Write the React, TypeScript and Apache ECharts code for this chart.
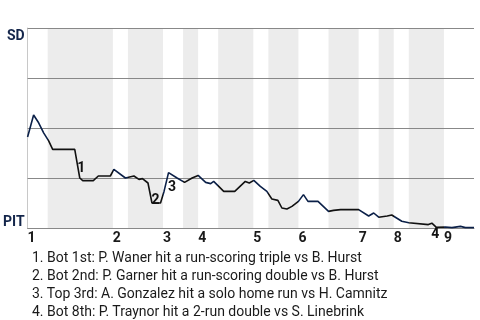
import React, { useEffect, useRef } from 'react';
import * as echarts from 'echarts';

// Event index (plate appearance order) and SD win probability
const eventX = [0, 1.2, 2.2, 3.2, 4.2, 5, 9.4, 10.4, 11, 13.1, 14.1, 16.5, 17.2, 19.5, 21.2, 22.2, 22.9, 24, 24.8, 26.5, 27.2, 28.1, 29.8, 31.3, 32.8, 34, 35.5, 36.5, 37.1, 39.1, 41.3, 43.4, 44.2, 45.1, 46.4, 47.7, 48.7, 49.9, 50.7, 51.7, 52.7, 54, 55, 55.9, 57.9, 60, 61, 62.4, 66, 68, 69, 70, 71.7, 72.6, 74.6, 76, 79.9, 80.6, 81.5, 83.3, 84.6, 86.3, 87.3, 89];
const winProb = [0.455, 0.565, 0.526, 0.476, 0.436, 0.393, 0.393, 0.25, 0.237, 0.237, 0.26, 0.26, 0.293, 0.25, 0.26, 0.243, 0.247, 0.225, 0.125, 0.125, 0.183, 0.277, 0.25, 0.228, 0.25, 0.263, 0.228, 0.222, 0.233, 0.183, 0.183, 0.233, 0.225, 0.238, 0.208, 0.183, 0.145, 0.138, 0.1, 0.095, 0.108, 0.133, 0.167, 0.133, 0.133, 0.083, 0.088, 0.092, 0.092, 0.06, 0.075, 0.054, 0.06, 0.065, 0.034, 0.026, 0.017, 0.024, 0.003, 0.005, 0.002, 0.008, 0.002, 0.002];

// Bottom half-innings (PIT batting), as event ranges
const bottomHalfStart = [4, 20, 31, 38, 48, 60, 70, 76];
const bottomHalfEnd = [17, 27, 34, 45, 54, 66, 73, 83];
const totalEvents = 89;

// Horizontal reference lines
const gridValues = [0.25, 0.5, 0.75, 1];

// Inning starts and labels
const inningStarts = [0, 17, 27, 34, 45, 54, 66, 73, 83];
const inningLabels = ['1', '2', '3', '4', '5', '6', '7', '8', '9'];

// Key play markers
const keyX = [10.7, 25.5, 28.8, 81.3];
const keyY = [0.307, 0.147, 0.212, -0.024];
const keyLabels = ['1', '2', '3', '4'];

const notes = [
  '1. Bot 1st: P. Waner hit a run-scoring triple vs B. Hurst',
  '2. Bot 2nd: P. Garner hit a run-scoring double vs B. Hurst',
  '3. Top 3rd: A. Gonzalez hit a solo home run vs H. Camnitz',
  '4. Bot 8th: P. Traynor hit a 2-run double vs S. Linebrink',
];

const SD_COLOR = '#0b2048';
const PIT_COLOR = '#111111';
const LABEL_COLOR = '#13254a';

export default function App() {
  const ref = useRef<HTMLDivElement>(null);
  useEffect(() => {
    if (!ref.current) return;
    const chart = echarts.init(ref.current, undefined, { renderer: 'svg' });
    const lineData = eventX.map((x, i) => [x, winProb[i]]);
    const bandData = bottomHalfStart.map((s, i) => [s, bottomHalfEnd[i]]);
    chart.setOption({
      animation: false,
      textStyle: { fontFamily: 'Roboto' },
      title: {
        text: notes.join('\n'),
        left: 27,
        top: 243,
        textStyle: { fontSize: 14, fontWeight: 'normal', color: '#1a1a1a', lineHeight: 18, fontFamily: 'Roboto' },
      },
      grid: { left: 27, right: 6, top: 28, bottom: 92 },
      visualMap: {
        show: false,
        type: 'piecewise',
        dimension: 0,
        seriesIndex: 0,
        pieces: bottomHalfStart.map((s, i) => ({ gte: s, lt: bottomHalfEnd[i], color: PIT_COLOR })),
        outOfRange: { color: SD_COLOR },
      },
      xAxis: {
        type: 'value',
        min: 0,
        max: totalEvents,
        splitLine: { show: false },
        axisLine: { show: true, lineStyle: { color: '#888' } },
        axisTick: { show: false },
        axisLabel: {
          customValues: inningStarts,
          formatter: (v: number) => {
            const idx = inningStarts.indexOf(v);
            return idx >= 0 ? inningLabels[idx] : '';
          },
          align: 'left',
          margin: 2,
          fontSize: 14,
          fontWeight: 'bold',
          color: '#1a1a1a',
          showMinLabel: true,
          showMaxLabel: true,
        },
      },
      yAxis: {
        type: 'value',
        min: 0,
        max: 1,
        interval: 0.25,
        splitLine: { show: false },
        axisLine: { show: true, lineStyle: { color: '#c8c8c8' } },
        axisTick: { show: false },
        axisLabel: {
          customValues: [0, 1],
          formatter: (v: number) => (v === 1 ? 'SD' : v === 0 ? 'PIT' : ''),
          verticalAlignMinLabel: 'bottom',
          verticalAlignMaxLabel: 'top',
          margin: 3,
          fontSize: 14,
          fontWeight: 'bold',
          color: LABEL_COLOR,
        },
      },
      series: [
        {
          type: 'line',
          data: lineData,
          showSymbol: false,
          symbol: 'none',
          lineStyle: { width: 1.6 },
          z: 5,
        },
        {
          type: 'custom',
          z: 1,
          silent: true,
          data: bandData,
          encode: { x: [0, 1] },
          renderItem: (params: any, api: any) => {
            const a = api.coord([api.value(0), 1]);
            const b = api.coord([api.value(1), 0]);
            return {
              type: 'rect',
              shape: { x: a[0], y: a[1], width: b[0] - a[0], height: b[1] - a[1] },
              style: { fill: '#ececec' },
            };
          },
        },
        {
          type: 'custom',
          z: 3,
          silent: true,
          data: gridValues.map((v) => [v]),
          encode: { y: 0 },
          renderItem: (params: any, api: any) => {
            const a = api.coord([0, api.value(0)]);
            const b = api.coord([totalEvents, api.value(0)]);
            const y = Math.round(a[1]) + 0.5;
            return {
              type: 'line',
              shape: { x1: a[0], y1: y, x2: b[0], y2: y },
              style: { stroke: '#888', lineWidth: 1 },
            };
          },
        },
        {
          type: 'scatter',
          symbolSize: 0,
          clip: false,
          z: 6,
          data: keyX.map((x, i) => ({ value: [x, keyY[i]], name: keyLabels[i] })),
          itemStyle: { color: '#000', opacity: 1 },
          label: {
            show: true,
            position: 'inside',
            formatter: (p: any) => p.name,
            fontSize: 14,
            fontWeight: 'bold',
            color: '#111',
            textBorderWidth: 0,
          },
        },
      ],
    });
    return () => chart.dispose();
  }, []);
  return <div ref={ref} style={{ position: 'fixed', left: 0, top: 0, width: 480, height: 320 }} />;
}
